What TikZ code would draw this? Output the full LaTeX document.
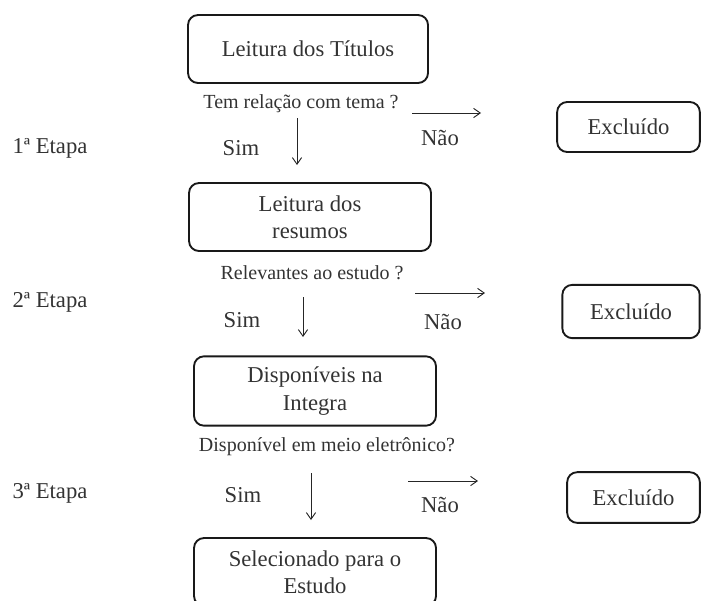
\documentclass[tikz,border=0pt]{standalone}
\usepackage{fontspec}
\setmainfont{Liberation Serif}
\usepackage{tikz}
\usetikzlibrary{arrows.meta}
\usetikzlibrary{positioning}

\tikzset{
  etapabox/.style={draw=black!90,line width=1.4pt,rounded corners=7.5pt,align=center,
    text=black!80,font=\fontsize{17}{20.5}\selectfont,inner sep=2pt},
  pergunta/.style={text=black!80,font=\fontsize{15}{18}\selectfont},
  rotulo/.style={text=black!80,font=\fontsize{17}{20}\selectfont},
  seta/.style={-{Straight Barb[length=5pt,width=7pt]},line width=0.7pt,black!85}
}

\begin{document}
\begin{tikzpicture}[x=0.75pt,y=-0.75pt]
	\useasboundingbox (0,0) rectangle (702,600);
	\clip (0,0) rectangle (702,600);
	% caixas principais
	\node[etapabox,minimum width=180pt,minimum height=51pt] (titulos) at (308,49) {Leitura dos Títulos};
	\node[etapabox,minimum width=181.5pt,minimum height=51pt] (resumos) at (310,217) {Leitura dos\\resumos};
	\node[etapabox,minimum width=181.5pt,minimum height=52pt] (integra) at (315,391) {Disponíveis na\\Integra};
	\node[etapabox,minimum width=181.5pt,minimum height=51pt] (selecionado) at (315,572) {Selecionado para o\\Estudo};
	% caixas de exclusao
	\node[etapabox,minimum width=107pt,minimum height=37.5pt] (excl1) at (628.5,127) {Excluído};
	\node[etapabox,minimum width=103pt,minimum height=40pt] (excl2) at (631,311.5) {Excluído};
	\node[etapabox,minimum width=99.5pt,minimum height=38pt] (excl3) at (633.5,497.5) {Excluído};
	% perguntas
	\node[pergunta] (perg1) at (301,104) {Tem relação com tema ?};
	\node[pergunta] (perg2) at (312,273) {Relevantes ao estudo ?};
	\node[pergunta] (perg3) at (327,447) {Disponível em meio eletrônico?};
	% etapas
	\node[rotulo] (etapa1) at (50,148) {1ª Etapa};
	\node[rotulo] (etapa2) at (50,302) {2ª Etapa};
	\node[rotulo] (etapa3) at (50,493) {3ª Etapa};
	% sim / nao
	\node[rotulo] (sim1) at (241,148) {Sim};
	\node[rotulo] (sim2) at (242,320) {Sim};
	\node[rotulo] (sim3) at (243,495) {Sim};
	\node[rotulo] (nao1) at (440,138) {Não};
	\node[rotulo] (nao2) at (443,322) {Não};
	\node[rotulo] (nao3) at (440,505) {Não};
	% setas
	\coordinate (d1a) at (297,118); \coordinate (d1b) at (297,165);
	\coordinate (d2a) at (303,297); \coordinate (d2b) at (303,337);
	\coordinate (d3a) at (311,473); \coordinate (d3b) at (311,520);
	\coordinate (r1a) at (412,113); \coordinate (r1b) at (481,113);
	\coordinate (r2a) at (415,293); \coordinate (r2b) at (485,293);
	\coordinate (r3a) at (408,481); \coordinate (r3b) at (478,481);
	\draw[seta] (d1a) -- (d1b);
	\draw[seta] (d2a) -- (d2b);
	\draw[seta] (d3a) -- (d3b);
	\draw[seta] (r1a) -- (r1b);
	\draw[seta] (r2a) -- (r2b);
	\draw[seta] (r3a) -- (r3b);
\end{tikzpicture}
\end{document}
